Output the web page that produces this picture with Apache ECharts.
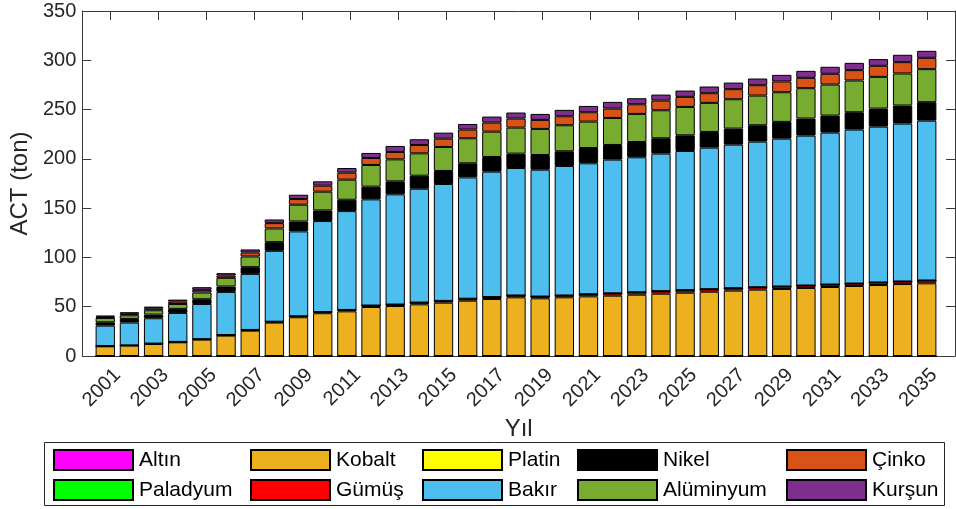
<!DOCTYPE html>
<html>
<head>
<meta charset="utf-8">
<script src="https://cdn.jsdelivr.net/npm/echarts@6/dist/echarts.min.js"></script>
<style>
  html, body { margin: 0; padding: 0; background: #fff; }
  #chart { width: 956px; height: 509px; }
</style>
</head>
<body>
<div id="chart"></div>
<script>
// Yearly metal demand (ton), stacked per year
const years = ['2001','2002','2003','2004','2005','2006','2007','2008','2009','2010','2011','2012','2013','2014','2015','2016','2017','2018','2019','2020','2021','2022','2023','2024','2025','2026','2027','2028','2029','2030','2031','2032','2033','2034','2035'];
const tickYears = [2001,2003,2005,2007,2009,2011,2013,2015,2017,2019,2021,2023,2025,2027,2029,2031,2033,2035];

const altin     = [0,0,0,0,0,0,0,0,0,0,0,0,0,0,0,0,0,0,0,0,0,0,0,0,0,0,0,0,0,0,0,0,0,0,0];
const paladyum  = [0,0,0,0,0,0,0,0,0,0,0,0,0,0,0,0,0,0,0,0,0,0,0,0,0,0,0,0,0,0,0,0,0,0,0];
const kobalt    = [9.8,10.5,12.2,13.9,16.6,20.7,25.7,33.9,39.3,43.4,45.3,49.7,50.7,52.4,54.1,56.1,57.8,59.5,58.5,59.5,60.5,61.2,62.2,63.2,64.2,65.2,66.3,67.3,68.0,69.0,70.0,71.0,72.0,73.0,73.7];
const gumus     = [0.3,0.3,0.4,0.4,0.5,0.6,0.7,0.9,1.0,1.2,1.4,1.5,1.5,1.8,1.8,2.0,2.0,1.9,1.8,1.9,2.2,2.4,2.5,2.6,2.6,2.6,2.5,2.5,2.5,2.5,2.5,2.5,2.6,2.6,2.9];
const platin    = [0,0,0,0,0,0,0,0,0,0,0,0,0,0,0,0,0,0,0,0,0,0,0,0,0,0,0,0,0,0,0,0,0,0,0];
const bakir     = [20.7,23.1,25.7,29.4,35.7,43.7,56.9,71.9,86.1,92.3,100.3,107.7,111.8,115.5,118.6,123.1,127.2,129.3,128.7,131.4,132.8,135.6,136.9,139.5,141.2,143.6,145.6,147.7,150.0,152.1,154.1,156.2,158.1,160.2,162.2];
const nikel     = [3.4,3.7,3.7,4.1,4.8,5.5,6.8,8.8,10.1,10.8,11.5,12.9,13.2,13.2,13.2,14.3,14.9,14.6,14.9,14.9,15.5,14.9,15.5,15.6,15.9,15.9,16.3,16.6,17.0,17.3,17.3,17.6,18.3,18.3,18.7];
const aluminyum = [4.4,3.7,4.4,5.0,6.8,8.8,10.9,13.9,17.0,19.0,20.4,22.0,22.3,22.7,24.4,25.4,25.7,26.4,26.5,26.4,26.8,27.4,28.5,28.4,28.8,29.5,29.8,30.1,30.1,30.8,31.5,32.2,32.2,32.5,33.5];
const cinko     = [1.2,1.5,2.0,2.4,2.7,2.3,4.0,5.4,5.7,6.1,7.1,7.1,7.5,8.5,8.4,8.8,9.2,9.2,9.1,9.1,9.5,9.5,9.8,9.8,10.2,9.8,10.2,10.5,10.9,10.5,10.9,10.5,11.2,11.5,11.5];
const kursun    = [1.2,1.6,1.7,2.0,2.7,2.4,3.1,3.7,4.4,4.4,4.7,5.1,6.1,5.8,6.1,5.7,6.1,6.1,6.1,6.5,6.4,6.8,6.1,6.1,6.4,6.8,6.7,6.8,6.7,7.1,7.1,7.4,6.8,7.5,7.1];

// series in stacking order (bottom to top)
const metals = [
  { name: 'Altın',     data: altin,     color: '#FF00FF' },
  { name: 'Paladyum',  data: paladyum,  color: '#00FF00' },
  { name: 'Kobalt',    data: kobalt,    color: '#EDB120' },
  { name: 'Gümüş',     data: gumus,     color: '#FF0000' },
  { name: 'Platin',    data: platin,    color: '#FFFF00' },
  { name: 'Bakır',     data: bakir,     color: '#4DBEEE' },
  { name: 'Nikel',     data: nikel,     color: '#000000' },
  { name: 'Alüminyum', data: aluminyum, color: '#77AC30' },
  { name: 'Çinko',     data: cinko,     color: '#D95319' },
  { name: 'Kurşun',    data: kursun,    color: '#7E2F8E' }
];

const FONT = '"Liberation Sans", Arial, Helvetica, sans-serif';
const AXIS = '#3a3a3a';
const TEXT = '#262626';

// frame (axes box) geometry and year range shown on it
const W = 956, H = 509;
const boxLeft = 77, boxRight = 1, boxTop = 11, boxBottom = 153;
const xMin = 1999.83, xMax = 2036.17;
const pxPerYear = (W - boxLeft - boxRight) / (xMax - xMin);
// bar grid: category bands centred on each year, aligned with the frame's year scale
const barLeft = boxLeft + (Number(years[0]) - 0.5 - xMin) * pxPerYear;
const barRight = boxRight + (xMax - (Number(years[years.length - 1]) + 0.5)) * pxPerYear;

const legendCols = [
  { left: 53,  items: ['Altın', 'Paladyum'] },
  { left: 250, items: ['Kobalt', 'Gümüş'] },
  { left: 422, items: ['Platin', 'Bakır'] },
  { left: 577, items: ['Nikel', 'Alüminyum'] },
  { left: 786, items: ['Çinko', 'Kurşun'] }
];

const chart = echarts.init(document.getElementById('chart'), null, { renderer: 'canvas' });

const frameLine = { show: true, onZero: false, lineStyle: { color: AXIS, width: 1 } };
const frameTick = { show: true, inside: true, length: 9, lineStyle: { color: AXIS } };

const option = {
  animation: false,
  backgroundColor: '#ffffff',
  textStyle: { fontFamily: FONT },
  grid: [
    { left: boxLeft, right: boxRight, top: boxTop, bottom: boxBottom, containLabel: false },
    { left: barLeft, right: barRight, top: boxTop, bottom: boxBottom, containLabel: false }
  ],
  xAxis: [
    {
      gridIndex: 0, type: 'value', min: xMin, max: xMax, position: 'bottom',
      name: 'Yıl', nameLocation: 'middle', nameGap: 60,
      nameTextStyle: { fontSize: 24, color: TEXT, fontFamily: FONT },
      axisLine: frameLine,
      axisTick: Object.assign({ customValues: tickYears }, frameTick),
      axisLabel: { show: true, customValues: tickYears, rotate: 45, margin: 9, verticalAlign: 'top',
                   fontSize: 20, color: TEXT, fontFamily: FONT,
                   formatter: v => String(Math.round(v)) },
      splitLine: { show: false }
    },
    {
      gridIndex: 0, type: 'value', min: xMin, max: xMax, position: 'top',
      axisLine: frameLine,
      axisTick: Object.assign({ customValues: tickYears }, frameTick),
      axisLabel: { show: false },
      splitLine: { show: false }
    },
    {
      gridIndex: 1, type: 'category', data: years, boundaryGap: true,
      axisLine: { show: false }, axisTick: { show: false }, axisLabel: { show: false }, splitLine: { show: false }
    }
  ],
  yAxis: [
    {
      gridIndex: 0, type: 'value', min: 0, max: 350, interval: 50, position: 'left',
      name: 'ACT (ton)', nameLocation: 'middle', nameGap: 42, nameRotate: 90,
      nameTextStyle: { fontSize: 24, color: TEXT, fontFamily: FONT },
      axisLine: frameLine,
      axisTick: frameTick,
      axisLabel: { fontSize: 20, color: TEXT, margin: 6, fontFamily: FONT },
      splitLine: { show: false }
    },
    {
      gridIndex: 0, type: 'value', min: 0, max: 350, interval: 50, position: 'right',
      axisLine: frameLine,
      axisTick: frameTick,
      axisLabel: { show: false },
      splitLine: { show: false }
    },
    {
      gridIndex: 1, type: 'value', min: 0, max: 350,
      axisLine: { show: false }, axisTick: { show: false }, axisLabel: { show: false }, splitLine: { show: false }
    }
  ],
  legend: legendCols.map(col => ({
    orient: 'vertical',
    left: col.left,
    top: 449,
    padding: 0,
    itemWidth: 79,
    itemHeight: 20,
    itemGap: 8,
    icon: 'rect',
    selectedMode: false,
    data: col.items,
    textStyle: { fontSize: 21, color: '#000', fontFamily: FONT, padding: [0, 0, 0, 1] }
  })),
  graphic: [
    {
      type: 'rect',
      shape: { x: 44.5, y: 442.5, width: 900, height: 63 },
      style: { fill: 'none', stroke: '#262626', lineWidth: 1 },
      silent: true
    }
  ],
  series: metals.map(m => ({
    name: m.name,
    type: 'bar',
    stack: 'toplam',
    xAxisIndex: 2,
    yAxisIndex: 2,
    barWidth: '80%',
    itemStyle: { color: m.color, borderColor: '#000', borderWidth: 1 },
    data: m.data
  }))
};

chart.setOption(option);
</script>
</body>
</html>
